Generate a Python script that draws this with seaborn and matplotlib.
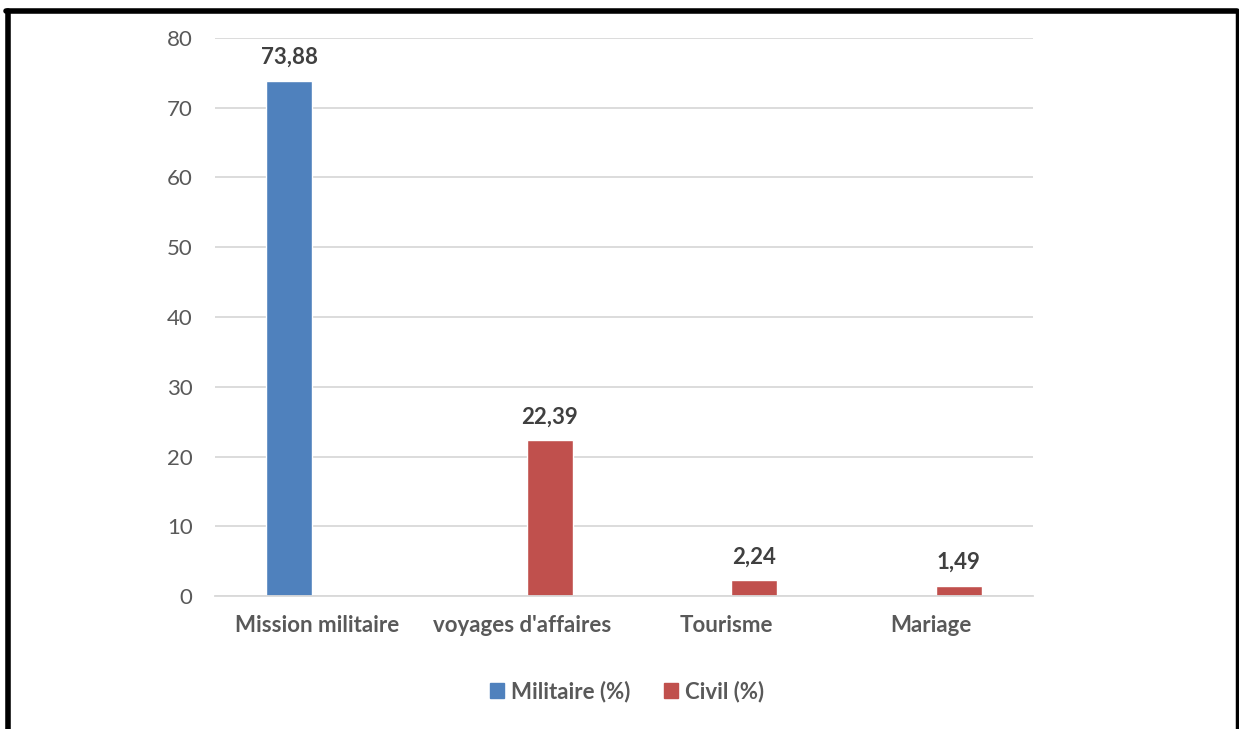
import matplotlib
matplotlib.use("Agg")
import matplotlib.pyplot as plt
from matplotlib.lines import Line2D
from matplotlib.patches import Patch
import seaborn as sns
import pandas as pd

# donnees
categories = ["Mission militaire", "voyages d'affaires", "Tourisme", "Mariage"]
militaire = [73.88, 0, 0, 0]
civil = [0, 22.39, 2.24, 1.49]
series = ["Militaire (%)", "Civil (%)"]
couleurs = ["#4f81bd", "#c0504d"]

df = pd.DataFrame({
    "cat": categories * 2,
    "val": militaire + civil,
    "serie": [series[0]] * 4 + [series[1]] * 4,
})

sns.set_style("white")
plt.rcParams["font.family"] = ["Lato", "DejaVu Sans"]
gris = "#595959"

fig = plt.figure(figsize=(12.39, 7.29), dpi=100)
ax = fig.add_axes([0.1735, 0.1824, 0.6602, 0.7655])

sns.barplot(data=df, x="cat", y="val", hue="serie", palette=couleurs,
            width=0.55, gap=0.18, ax=ax, legend=False, saturation=1)

ax.set_ylim(0, 80)
ax.set_xlim(-0.5, 3.5)
ax.set_yticks(range(0, 81, 10))
ax.yaxis.grid(True, color="#d9d9d9", linewidth=1.3)
ax.set_axisbelow(True)
for s in ["top", "right", "left"]:
    ax.spines[s].set_visible(False)
ax.spines["bottom"].set_color("#d9d9d9")
ax.spines["bottom"].set_linewidth(1.3)
ax.tick_params(length=0)
ax.tick_params(axis="y", labelsize=16, labelcolor=gris, pad=16)
ax.tick_params(axis="x", labelsize=16, labelcolor=gris, pad=14)
for t in ax.get_xticklabels():
    t.set_fontweight("bold")
ax.set_xlabel("")
ax.set_ylabel("")

for cont in ax.containers:
    labs = [("%.2f" % b.get_height()).replace(".", ",") if b.get_height() > 0 else ""
            for b in cont]
    ax.bar_label(cont, labels=labs, padding=9, fontsize=16, fontweight="bold",
                 color="#404040")

handles = [Patch(color=c) for c in couleurs]
fig.legend(handles, series, loc="center", bbox_to_anchor=(0.506, 0.051), ncol=2,
           frameon=False, handlelength=0.65, handleheight=0.65, columnspacing=1.5,
           handletextpad=0.3, prop={"size": 16, "weight": "bold"}, labelcolor=gris)

# cadre noir autour de la figure
W, H = 1239, 729
fig.add_artist(Line2D([7.5 / W, 7.5 / W], [-0.1, 1 - 10.5 / H], color="black",
                      linewidth=4, transform=fig.transFigure))
fig.add_artist(Line2D([5.5 / W, 1237 / W], [1 - 10.5 / H, 1 - 10.5 / H], color="black",
                      linewidth=4, transform=fig.transFigure))
fig.add_artist(Line2D([1237 / W, 1237 / W], [-0.1, 1 - 10.5 / H], color="black",
                      linewidth=2.5, transform=fig.transFigure))

fig.savefig("out.png", dpi=100)
